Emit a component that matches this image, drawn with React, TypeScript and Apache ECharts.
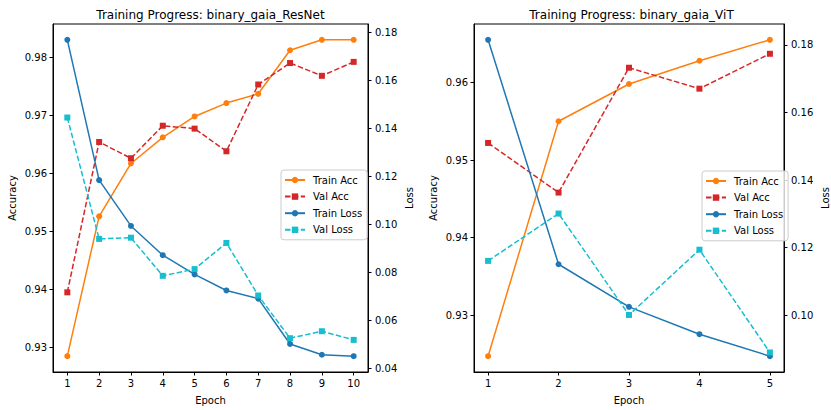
import React, { useEffect, useRef } from "react";
import * as echarts from "echarts";

const resnetEpochs = [1, 2, 3, 4, 5, 6, 7, 8, 9, 10];
const resnetTrainAcc = [0.9285, 0.9526, 0.9617, 0.9662, 0.9698, 0.9721, 0.9737, 0.9812, 0.983, 0.983];
const resnetValAcc = [0.9395, 0.9654, 0.9626, 0.9682, 0.9677, 0.9638, 0.9753, 0.979, 0.9768, 0.9792];
const resnetTrainLoss = [0.177, 0.1185, 0.0994, 0.0872, 0.0792, 0.0725, 0.0691, 0.0502, 0.0457, 0.0451];
const resnetValLoss = [0.1446, 0.094, 0.0945, 0.0786, 0.0814, 0.0923, 0.0704, 0.0526, 0.0555, 0.0519];

const vitEpochs = [1, 2, 3, 4, 5];
const vitTrainAcc = [0.9247, 0.955, 0.9598, 0.9628, 0.9655];
const vitValAcc = [0.9522, 0.9458, 0.9619, 0.9592, 0.9637];
const vitTrainLoss = [0.1815, 0.1151, 0.1025, 0.0944, 0.0879];
const vitValLoss = [0.1161, 0.1301, 0.1001, 0.1194, 0.089];

const resnetAccTicks = [0.93, 0.94, 0.95, 0.96, 0.97, 0.98];
const resnetLossTicks = [0.04, 0.06, 0.08, 0.1, 0.12, 0.14, 0.16, 0.18];
const vitAccTicks = [0.93, 0.94, 0.95, 0.96];
const vitLossTicks = [0.1, 0.12, 0.14, 0.16, 0.18];

const titles = ["Training Progress: binary_gaia_ResNet", "Training Progress: binary_gaia_ViT"];
const seriesNames = ["Train Acc", "Val Acc", "Train Loss", "Val Loss"];

const C_TA = "#ff7f0e";
const C_VA = "#d62728";
const C_TL = "#1f77b4";
const C_VL = "#17becf";
const FONT = "DejaVu Sans";

function lim(arrs: number[][]) {
  const all = arrs.flat();
  const mn = Math.min(...all);
  const mx = Math.max(...all);
  const r = mx - mn;
  return [mn - 0.05 * r, mx + 0.05 * r];
}

export default function App() {
  const ref = useRef<HTMLDivElement>(null);
  useEffect(() => {
    if (!ref.current) return;
    const chart = echarts.init(ref.current, undefined, { renderer: "svg" });

    const grids = [
      { left: 53, right: 463, top: 24, bottom: 31 },
      { left: 474, right: 42, top: 24, bottom: 31 },
    ];
    const gridCenters = [210.5, 631.5];

    const panels = [
      { epochs: resnetEpochs, ta: resnetTrainAcc, va: resnetValAcc, tl: resnetTrainLoss, vl: resnetValLoss, accT: resnetAccTicks, lossT: resnetLossTicks },
      { epochs: vitEpochs, ta: vitTrainAcc, va: vitValAcc, tl: vitTrainLoss, vl: vitValLoss, accT: vitAccTicks, lossT: vitLossTicks },
    ];

    const xAxis: any[] = [];
    const yAxis: any[] = [];
    const series: any[] = [];

    const axisText = { color: "#000", fontSize: 10, fontFamily: FONT };

    panels.forEach((p, i) => {
      const xl = lim([p.epochs]);
      xAxis.push({
        type: "value",
        gridIndex: i,
        min: xl[0],
        max: xl[1],
        name: "Epoch",
        nameLocation: "middle",
        nameGap: 23,
        nameTextStyle: axisText,
        axisLine: { show: true, lineStyle: { color: "#000", width: 1 } },
        axisTick: { show: true, inside: false, length: 3.5, customValues: p.epochs, lineStyle: { color: "#000" } },
        axisLabel: { ...axisText, margin: 6, customValues: p.epochs, formatter: (v: number) => String(Math.round(v)) },
        splitLine: { show: false },
      });
      const al = lim([p.ta, p.va]);
      const ll = lim([p.tl, p.vl]);
      yAxis.push({
        type: "value",
        gridIndex: i,
        position: "left",
        min: al[0],
        max: al[1],
        name: "Accuracy",
        nameLocation: "middle",
        nameGap: 36,
        nameTextStyle: axisText,
        axisLine: { show: true, lineStyle: { color: "#000", width: 1 } },
        axisTick: { show: true, length: 3.5, customValues: p.accT, lineStyle: { color: "#000" } },
        axisLabel: { ...axisText, margin: 6, customValues: p.accT, formatter: (v: number) => v.toFixed(2) },
        splitLine: { show: false },
      });
      yAxis.push({
        type: "value",
        gridIndex: i,
        position: "right",
        min: ll[0],
        max: ll[1],
        name: "Loss",
        nameLocation: "middle",
        nameGap: 36,
        nameRotate: 90,
        nameTextStyle: axisText,
        axisLine: { show: true, lineStyle: { color: "#000", width: 1 } },
        axisTick: { show: true, length: 3.5, customValues: p.lossT, lineStyle: { color: "#000" } },
        axisLabel: { ...axisText, margin: 7, customValues: p.lossT, formatter: (v: number) => v.toFixed(2) },
        splitLine: { show: false },
      });
      const pair = (ys: number[]) => p.epochs.map((e, k) => [e, ys[k]]);
      const mk = (name: string, ys: number[], color: string, yIdx: number, sym: string, dashed: boolean) => ({
        type: "line",
        name,
        xAxisIndex: i,
        yAxisIndex: yIdx,
        data: pair(ys),
        symbol: sym,
        symbolSize: 6,
        showAllSymbol: true,
        color,
        itemStyle: { color },
        lineStyle: { color, width: 1.5, type: dashed ? [5.5, 2.4] : "solid" },
        emphasis: { disabled: true },
        z: 2,
      });
      series.push(mk(seriesNames[0], p.ta, C_TA, i * 2, "circle", false));
      series.push(mk(seriesNames[1], p.va, C_VA, i * 2, "rect", true));
      series.push(mk(seriesNames[2], p.tl, C_TL, i * 2 + 1, "circle", false));
      series.push(mk(seriesNames[3], p.vl, C_VL, i * 2 + 1, "rect", true));
    });

    const legendBase = {
      orient: "vertical",
      data: seriesNames,
      itemWidth: 20,
      itemHeight: 8,
      itemGap: 6.6,
      padding: [5, 5, 5, 3],
      borderColor: "#ccc",
      borderWidth: 1,
      borderRadius: 3,
      backgroundColor: "rgba(255,255,255,0.8)",
      textStyle: { color: "#000", fontSize: 10, fontFamily: FONT, padding: [0, 0, 0, 3] },
      selectedMode: false,
    };

    chart.setOption({
      animation: false,
      backgroundColor: "#fff",
      textStyle: { fontFamily: FONT },
      grid: grids.map((g) => ({ ...g, show: true, borderColor: "#000", borderWidth: 1, backgroundColor: "transparent" })),
      xAxis,
      yAxis,
      series,
      legend: [
        { ...legendBase, left: 281, top: 170 },
        { ...legendBase, left: 702, top: 171 },
      ],
      graphic: titles.map((t, i) => ({
        type: "text",
        x: gridCenters[i],
        y: 15,
        style: { text: t, fill: "#000", font: `12px ${FONT}`, textAlign: "center", textVerticalAlign: "middle" },
      })),
    });

    return () => chart.dispose();
  }, []);

  return <div ref={ref} style={{ position: "fixed", left: 0, top: 0, width: 831, height: 410 }} />;
}
